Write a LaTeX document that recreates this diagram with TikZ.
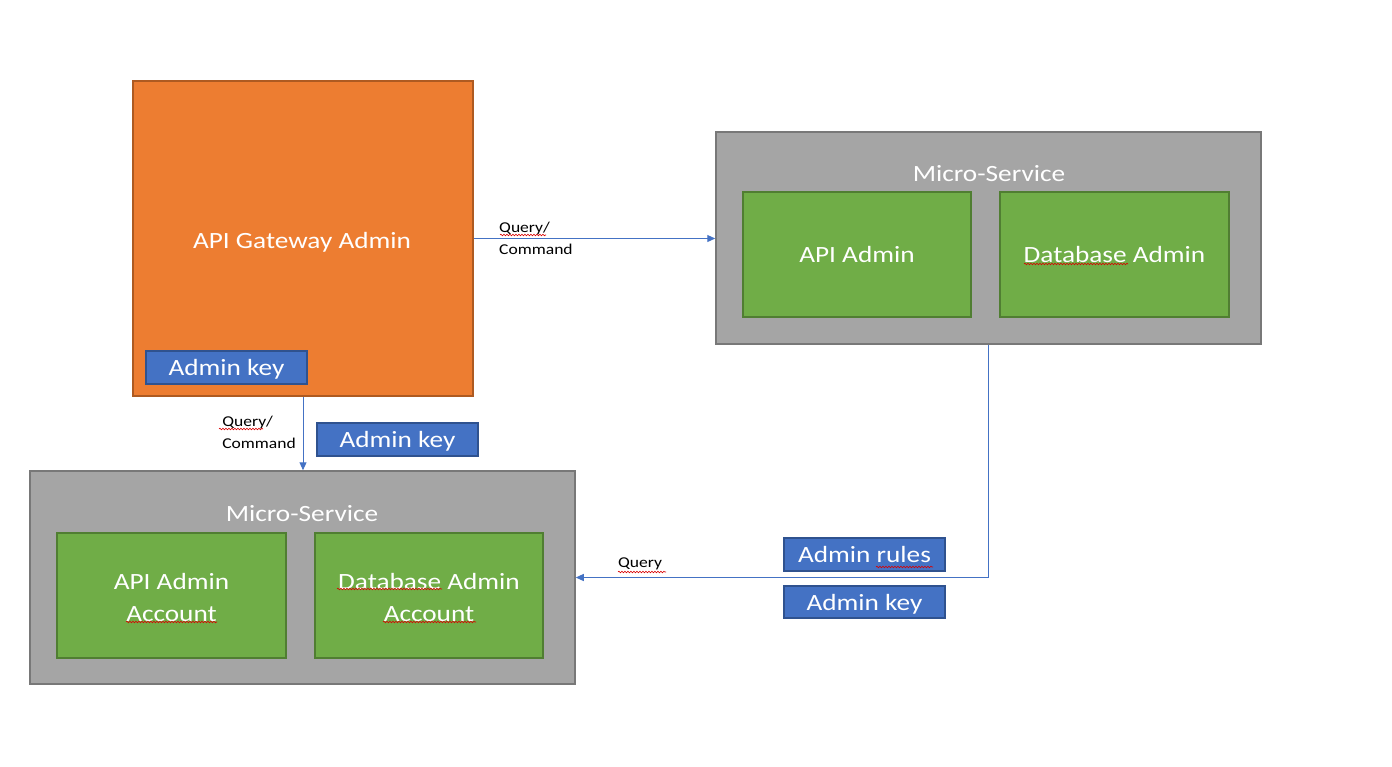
\documentclass[tikz,border=0pt]{standalone}
\usepackage{fontspec}
\setmainfont{Carlito}[FakeStretch=1.17]
\usetikzlibrary{arrows.meta,decorations.pathmorphing}
\definecolor{orangefill}{HTML}{ED7D31}
\definecolor{orangeline}{HTML}{AE5A21}
\definecolor{greyfill}{HTML}{A5A5A5}
\definecolor{greyline}{HTML}{787878}
\definecolor{greenfill}{HTML}{70AD47}
\definecolor{greenline}{HTML}{507E32}
\definecolor{bluefill}{HTML}{4472C4}
\definecolor{blueline}{HTML}{2F528F}
\definecolor{connline}{HTML}{4472C4}
\tikzset{
  box/.style={draw, line width=1.5pt, inner sep=0pt, text=white, align=center,
    font=\fontsize{23.3}{32}\selectfont},
  gwbox/.style={box, fill=orangefill, draw=orangeline},
  msbox/.style={box, fill=greyfill, draw=greyline},
  greenbox/.style={box, fill=greenfill, draw=greenline, minimum width=228pt, minimum height=125pt},
  keybox/.style={box, fill=bluefill, draw=blueline, minimum width=161pt, minimum height=33pt, text depth=0pt},
  title/.style={text=white, font=\fontsize{23.3}{32}\selectfont, inner sep=0pt, align=center},
  conn/.style={draw=connline, line width=1pt, -{Triangle[width=7pt,length=8pt]}},
  lbl/.style={font=\fontsize{15}{22}\selectfont, align=left, inner sep=0pt},
  squig/.style={draw=red!85!black, line width=0.6pt, decorate,
    decoration={snake, amplitude=0.8pt, segment length=3pt}}
}
\begin{document}
\begin{tikzpicture}[x=1pt,y=-1pt]
\useasboundingbox (0,0) rectangle (1392,766);
% gateway
\node[gwbox, minimum width=340pt, minimum height=315pt] (gw) at (303,238.5) {};
\node[title, text depth=0pt] (gwt) at (302,240) {API Gateway Admin};
\node[keybox] (key1) at (226.5,367.5) {Admin key};
% top micro-service
\node[msbox, minimum width=545pt, minimum height=212pt] (ms1) at (988.5,238) {};
\node[title] (ms1t) at (989,173.5) {Micro-Service};
\node[greenbox] (api1) at (857,254.5) {API Admin};
\node[greenbox, minimum width=229pt] (db1) at (1114.5,254.5) {Database Admin};
% bottom micro-service
\node[msbox, minimum width=545pt, minimum height=213pt] (ms2) at (302.5,577.5) {};
\node[title] (ms2t) at (302,513.5) {Micro-Service};
\node[greenbox, minimum width=229pt] (api2) at (171.5,595.5) {};
\node[title] (api2t) at (171.5,597) {API Admin\\Account};
\node[greenbox] (db2) at (429,595.5) {};
\node[title] (db2t) at (429,597) {Database Admin\\Account};
% key boxes
\node[keybox] (key2) at (397.5,439.5) {Admin key};
\node[keybox] (rules) at (864.5,554.5) {Admin rules};
\node[keybox, minimum height=32pt] (key3) at (864.5,602) {Admin key};
% connectors
\draw[conn] (gw.east) -- (gw.east -| ms1.west);
\draw[conn] (gw.south) -- (gw.south |- ms2.north);
\draw[conn] (ms1.south) |- (ms2.east);
% labels
\node[lbl, anchor=west] (l1) at (499,238.5) {Query/\\Command};
\node[lbl, anchor=east] (l2) at (296,432) {Query/\\Command};
\node[lbl] (l3) at (640,564) {Query};
% spell-check squiggles
\draw[squig] (500,235) -- (546,235);
\draw[squig] (219,429) -- (263,429);
\draw[squig] (618,572) -- (666,572);
\draw[squig] (876,567) -- (933,567);
\draw[squig] (1024,264) -- (1128,264);
\draw[squig] (337,589) -- (442,589);
\draw[squig] (126,622) -- (217,622);
\draw[squig] (383,622) -- (476,622);
\end{tikzpicture}
\end{document}
